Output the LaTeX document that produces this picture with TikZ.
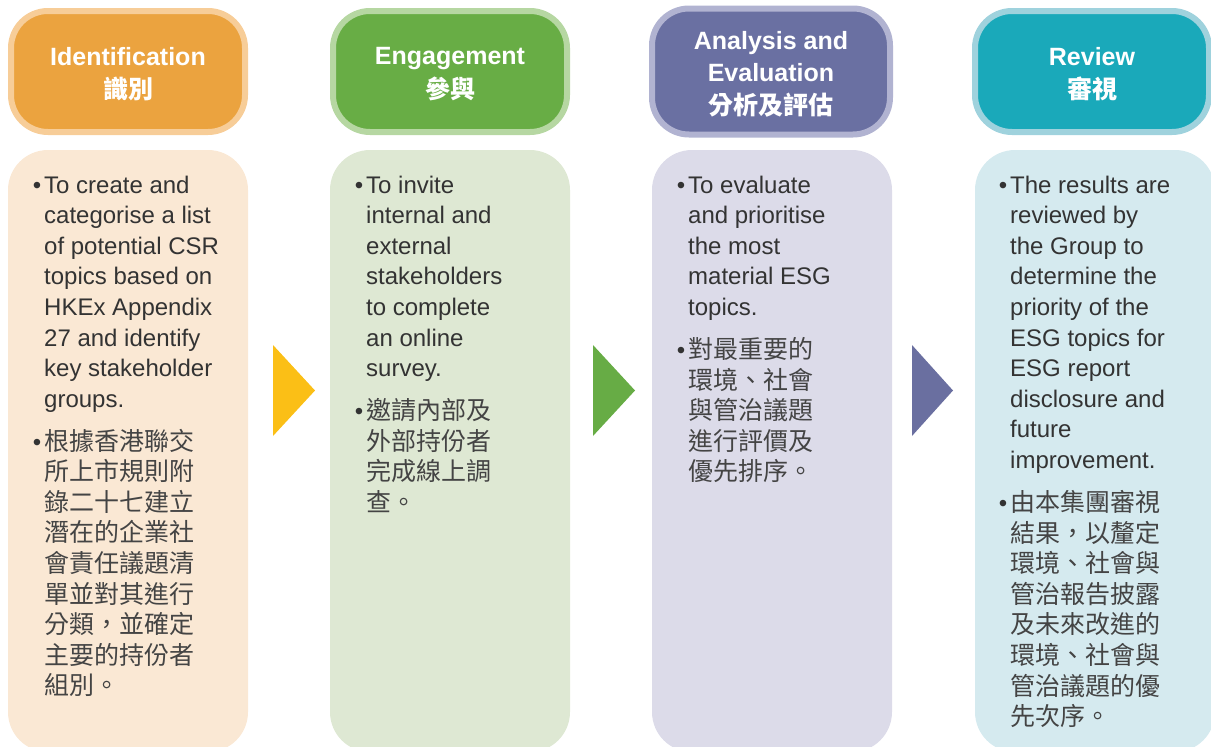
\documentclass[tikz,border=0pt]{standalone}
\usepackage{fontspec}
\setmainfont{Liberation Sans}
\newfontfamily\cjk{Noto Sans CJK TC}
\definecolor{orH}{HTML}{EBA33F}\definecolor{orB}{HTML}{F7CD98}\definecolor{orC}{HTML}{FAE8D4}
\definecolor{grH}{HTML}{68AD45}\definecolor{grB}{HTML}{B6D7A2}\definecolor{grC}{HTML}{DEE8D3}
\definecolor{puH}{HTML}{6A70A2}\definecolor{puB}{HTML}{B1B3D1}\definecolor{puC}{HTML}{DCDBE9}
\definecolor{teH}{HTML}{1AA9BA}\definecolor{teB}{HTML}{9FD2DD}\definecolor{teC}{HTML}{D5EAEF}
\definecolor{triY}{HTML}{FBBF16}\definecolor{triG}{HTML}{67AC45}\definecolor{triP}{HTML}{6A6FA0}
\definecolor{txtc}{HTML}{333333}
\definecolor{zhc}{HTML}{444444}
\newcommand\hdrfont{\fontsize{25}{33.5}\selectfont\bfseries}
\newcommand\enpara[1]{\parbox[t]{215pt}{\fontsize{24}{30.6}\selectfont\raggedright\noindent\llap{•\hspace{3pt}}#1}}
\newcommand\zhpara[1]{\parbox[t]{215pt}{\fontsize{25}{30.6}\selectfont\raggedright\noindent\llap{\fontsize{24}{24}\selectfont•\hspace{3pt}}\color{zhc}\cjk #1}}
\begin{document}
\begin{tikzpicture}[x=1pt,y=-1pt,
  hdr/.style={rectangle, rounded corners=37pt, line width=6pt, minimum width=234pt, minimum height=121pt, inner sep=0pt, align=center, text=white, font=\hdrfont},
  bodybox/.style={rectangle, rounded corners=40pt, minimum width=240pt, minimum height=602pt, inner sep=0pt},
  txt/.style={anchor=base west, inner sep=0pt, text=txtc}]
\useasboundingbox (0,0) rectangle (1211,747);
\clip (0,0) rectangle (1211,747);
% content boxes
\node[bodybox, fill=orC] (b1) at (128,451) {};
\node[bodybox, fill=grC] (b2) at (450,451) {};
\node[bodybox, fill=puC] (b3) at (772,451) {};
\node[bodybox, fill=teC] (b4) at (1095,451) {};
% headers
\node[hdr, fill=orH, draw=orB] (h1) at (128,71.5) {};
\node[hdr, fill=grH, draw=grB] (h2) at (450,71.5) {};
\node[hdr, fill=puH, draw=puB, minimum width=238pt, minimum height=126pt] (h3) at (771,71.5) {};
\node[hdr, fill=teH, draw=teB] (h4) at (1092,71.5) {};
\node[hdr, draw=none, fill=none, minimum width=0pt, minimum height=0pt, rounded corners=0pt] (t1) at (128,74) {Identification\\{\cjk\bfseries 識別}};
\node[hdr, draw=none, fill=none, minimum width=0pt, minimum height=0pt, rounded corners=0pt] (t2) at (450,74) {Engagement\\{\cjk\bfseries 參與}};
\node[hdr, draw=none, fill=none, minimum width=0pt, minimum height=0pt, rounded corners=0pt, font=\fontsize{25}{32.5}\selectfont\bfseries] (t3) at (771,74) {Analysis and\\Evaluation\\{\cjk\bfseries 分析及評估}};
\node[hdr, draw=none, fill=none, minimum width=0pt, minimum height=0pt, rounded corners=0pt] (t4) at (1092,74) {Review\\{\cjk\bfseries 審視}};
% triangles
\fill[triY] (273,345) -- (315,390.5) -- (273,436) -- cycle;
\fill[triG] (593,345) -- (635,390.5) -- (593,436) -- cycle;
\fill[triP] (912,345) -- (953,390.5) -- (912,436) -- cycle;
% texts
\node[txt] (e1) at (44,193) {\enpara{To create and\\categorise a list\\of potential CSR\\topics based on\\HKEx Appendix\\27 and identify\\key stakeholder\\groups.}};
\node[txt] (z1) at (44,450) {\zhpara{根據香港聯交\\所上市規則附\\錄二十七建立\\潛在的企業社\\會責任議題清\\單並對其進行\\分類，並確定\\主要的持份者\\組別。}};
\node[txt] (e2) at (366,193) {\enpara{To invite\\internal and\\external\\stakeholders\\to complete\\an online\\survey.}};
\node[txt] (z2) at (366,419.6) {\zhpara{邀請內部及\\外部持份者\\完成線上調\\查。}};
\node[txt] (e3) at (688,193) {\enpara{To evaluate\\and prioritise\\the most\\material ESG\\topics.}};
\node[txt] (z3) at (688,358.4) {\zhpara{對最重要的\\環境、社會\\與管治議題\\進行評價及\\優先排序。}};
\node[txt] (e4) at (1010,193) {\enpara{The results are\\reviewed by\\the Group to\\determine the\\priority of the\\ESG topics for\\ESG report\\disclosure and\\future\\improvement.}};
\node[txt] (z4) at (1010,511.4) {\zhpara{由本集團審視\\結果，以釐定\\環境、社會與\\管治報告披露\\及未來改進的\\環境、社會與\\管治議題的優\\先次序。}};
\end{tikzpicture}
\end{document}
